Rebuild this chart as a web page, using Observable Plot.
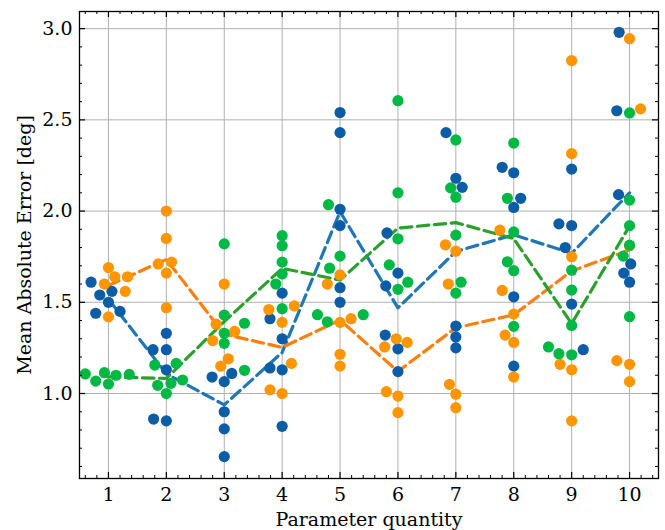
<!DOCTYPE html>
<html><head><meta charset="utf-8">
<script src="https://cdn.jsdelivr.net/npm/d3@7"></script>
<script src="https://cdn.jsdelivr.net/npm/@observablehq/plot@0.6"></script>
<style>body{margin:0;background:#fff}</style>
</head><body><div id="chart"></div>
<script>
// Tick labels
const xTicks = [1, 2, 3, 4, 5, 6, 7, 8, 9, 10];
const yTicks = [1.0, 1.5, 2.0, 2.5, 3.0];

// Blue series (jittered x, value)
const blueX = [0.70, 0.85, 1.06, 1.00, 0.78, 1.20,
               1.77, 2.00, 2.00, 2.00, 1.78, 2.00,
               2.79, 3.00, 3.13, 3.00, 3.00, 3.00,
               3.79, 4.00, 4.00, 3.79, 4.00, 4.00,
               5.00, 5.00, 5.00, 5.00, 5.00, 5.00,
               5.81, 6.00, 5.79, 5.78, 6.00, 6.00,
               6.83, 7.00, 7.11, 7.00, 7.00, 7.00,
               7.80, 8.00, 8.12, 8.00, 8.00, 8.00,
               8.78, 9.00, 9.00, 8.89, 9.00, 9.20,
               9.82, 9.78, 9.81, 10.02, 9.90, 10.00];
const blueY = [1.61, 1.54, 1.56, 1.50, 1.44, 1.45,
               1.24, 1.24, 1.33, 1.13, 0.86, 0.85,
               1.09, 1.065, 1.11, 0.90, 0.806, 0.654,
               1.41, 1.55, 1.30, 1.14, 1.13, 0.82,
               2.54, 2.43, 2.01, 1.92, 1.58, 1.50,
               1.88, 1.66, 1.59, 1.32, 1.245, 1.12,
               2.43, 2.18, 2.13, 1.37, 1.31, 1.25,
               2.24, 2.21, 2.07, 2.02, 1.53, 1.15,
               1.93, 1.92, 2.23, 1.80, 1.49, 1.24,
               2.98, 2.55, 2.09, 1.71, 1.66, 1.61];

// Orange series
const orangeX = [1.00, 0.93, 1.11, 1.33, 1.29, 1.00,
                 2.00, 2.00, 1.86, 2.09, 2.00, 2.00,
                 3.00, 2.86, 3.18, 2.80, 3.07, 2.94,
                 3.77, 4.00, 4.21, 4.16, 3.79, 4.00,
                 5.00, 4.78, 5.19, 5.00, 5.00, 5.00,
                 5.97, 6.16, 5.77, 5.80, 6.00, 6.00,
                 6.82, 7.00, 6.87, 6.89, 7.00, 7.00,
                 7.76, 7.80, 8.00, 7.85, 8.00, 8.00,
                 9.00, 9.00, 9.00, 8.80, 9.00, 9.00,
                 10.00, 10.19, 9.78, 10.00, 10.00, 10.00];
const orangeY = [1.69, 1.60, 1.64, 1.64, 1.56, 1.42,
                 2.00, 1.85, 1.71, 1.72, 1.66, 1.47,
                 1.60, 1.38, 1.34, 1.29, 1.19, 1.15,
                 1.46, 1.39, 1.48, 1.165, 1.02, 1.00,
                 1.65, 1.60, 1.41, 1.39, 1.215, 1.15,
                 1.30, 1.28, 1.255, 1.01, 0.986, 0.895,
                 1.815, 1.78, 1.60, 1.05, 0.996, 0.922,
                 1.895, 1.565, 1.435, 1.32, 1.28, 1.09,
                 2.825, 2.315, 1.75, 1.16, 1.13, 0.85,
                 2.945, 2.56, 1.18, 1.16, 1.065, 1.81];

// Green series
const greenX = [0.60, 0.78, 0.93, 1.00, 1.13, 1.36,
                1.80, 2.17, 1.85, 2.08, 2.00, 2.28,
                3.00, 3.00, 3.00, 3.00, 3.35, 3.35,
                4.00, 4.00, 4.00, 4.00, 3.89, 4.00,
                4.80, 5.00, 4.82, 4.61, 4.78, 5.40,
                6.00, 6.00, 6.00, 5.85, 6.00, 6.17,
                7.00, 6.91, 7.00, 7.00, 7.09, 7.00,
                8.00, 7.89, 8.00, 7.89, 8.00, 8.00,
                9.00, 9.00, 9.00, 8.60, 8.78, 9.00,
                10.00, 10.00, 10.00, 10.00, 9.89, 10.00];
const greenY = [1.107, 1.068, 1.114, 1.052, 1.10, 1.105,
                1.156, 1.165, 1.045, 1.056, 1.00, 1.074,
                1.82, 1.43, 1.33, 1.275, 1.385, 1.127,
                1.865, 1.81, 1.72, 1.655, 1.60, 1.465,
                2.035, 1.753, 1.687, 1.432, 1.393, 1.432,
                2.605, 2.10, 1.848, 1.705, 1.571, 1.61,
                2.39, 2.127, 2.076, 1.868, 1.61, 1.55,
                2.373, 2.07, 1.886, 1.722, 1.673, 1.368,
                1.676, 1.567, 1.373, 1.255, 1.218, 1.212,
                2.538, 2.06, 1.92, 1.813, 1.753, 1.421];

const seriesNames = ["blue", "orange", "green"];
const dotColor = {blue: "#0C5DA5", orange: "#FF9500", green: "#00B945"};
const lineColor = {blue: "#1f77b4", orange: "#ff7f0e", green: "#2ca02c"};
const dataX = {blue: blueX, orange: orangeX, green: greenX};
const dataY = {blue: blueY, orange: orangeY, green: greenY};

const rows = seriesNames.flatMap(s => dataX[s].map((x, i) => ({s, x, q: Math.round(x), y: dataY[s][i]})));

const xMinor = d3.range(3, 53).filter(i => i % 5 !== 0).map(i => i / 5);
const yMinor = d3.range(6, 31).filter(i => i % 5 !== 0).map(i => i / 10);

const W = 665, H = 530, mT = 11, mR = 7, mB = 52, mL = 79;
const iw = W - mL - mR, ih = H - mT - mB;
const font = "DejaVu Serif";
const fs = 19;

const marks = [
  Plot.ruleX(xTicks, {x: d => d, stroke: "#b0b0b0", strokeWidth: 1}),
  Plot.ruleY(yTicks, {y: d => d, stroke: "#b0b0b0", strokeWidth: 1}),
  ...seriesNames.map(s => Plot.line(rows.filter(r => r.s === s),
      Plot.groupX({y: "mean"}, {x: "q", y: "y", stroke: lineColor[s], strokeWidth: 3.2, strokeDasharray: "11.5,5.5"}))),
  ...seriesNames.map(s => Plot.dot(rows.filter(r => r.s === s),
      {x: "x", y: "y", r: 5.6, fill: dotColor[s], stroke: null})),
  // ticks, inward on all four sides
  Plot.tickX(xTicks, {x: d => d, insetTop: ih - 6, stroke: "black", strokeWidth: 1.2}),
  Plot.tickX(xTicks, {x: d => d, insetBottom: ih - 6, stroke: "black", strokeWidth: 1.2}),
  Plot.tickX(xMinor, {x: d => d, insetTop: ih - 3, stroke: "black", strokeWidth: 1}),
  Plot.tickX(xMinor, {x: d => d, insetBottom: ih - 3, stroke: "black", strokeWidth: 1}),
  Plot.tickY(yTicks, {y: d => d, insetRight: iw - 6, stroke: "black", strokeWidth: 1.2}),
  Plot.tickY(yTicks, {y: d => d, insetLeft: iw - 6, stroke: "black", strokeWidth: 1.2}),
  Plot.tickY(yMinor, {y: d => d, insetRight: iw - 3, stroke: "black", strokeWidth: 1}),
  Plot.tickY(yMinor, {y: d => d, insetLeft: iw - 3, stroke: "black", strokeWidth: 1}),
  Plot.frame({stroke: "black", strokeWidth: 1.3}),
  Plot.axisX(xTicks, {tickSize: 0, tickPadding: 9, label: null, fontSize: fs, tickFormat: d => String(d)}),
  Plot.axisY(yTicks, {tickSize: 0, tickPadding: 7, label: null, fontSize: fs, tickFormat: d => d.toFixed(1)}),
  Plot.text(["Parameter quantity"], {frameAnchor: "bottom", dy: 41, lineAnchor: "middle", text: d => d, fontSize: fs, fill: "black"}),
  Plot.text(["Mean Absolute Error [deg]"], {frameAnchor: "left", dx: -62, rotate: -90, lineAnchor: "top", textAnchor: "middle", text: d => d, fontSize: fs, fill: "black"})
];

const chart = Plot.plot({
  width: W, height: H,
  marginTop: mT, marginRight: mR, marginBottom: mB, marginLeft: mL,
  style: {fontFamily: font, background: "white", color: "black"},
  x: {domain: [0.5, 10.5]},
  y: {domain: [0.534, 3.094]},
  marks
});
document.getElementById("chart").appendChild(chart);
</script>
</body></html>
